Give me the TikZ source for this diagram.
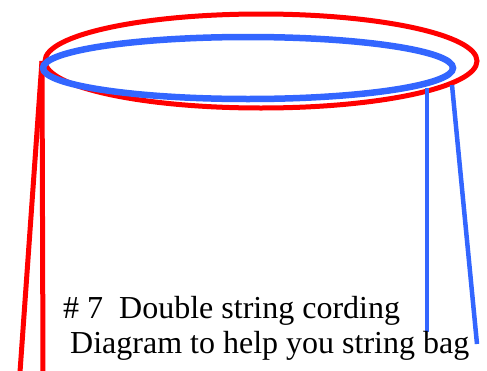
\documentclass[tikz,border=0pt]{standalone}
\usepackage{fontspec}
\setmainfont{Liberation Serif}
\definecolor{ringred}{RGB}{255,0,0}
\definecolor{ringblue}{RGB}{51,102,255}
\begin{document}
\begin{tikzpicture}[x=1pt,y=-1pt,
  redline/.style={draw=ringred,line width=5pt},
  blueline/.style={draw=ringblue,line width=4.5pt},
  label/.style={anchor=base west,inner sep=0pt,font=\fontsize{32}{36}\selectfont}]
\useasboundingbox (0,0) rectangle (487,370);
% red ring and legs
\draw[redline] (261,61) ellipse [x radius=216,y radius=47];
\coordinate (rtop) at (42,61);
\coordinate (rl) at (20,372);
\coordinate (rr) at (43,372);
\draw[redline] (rtop) -- (rl);
\draw[redline] (rtop) -- (rr);
% blue ring and legs
\coordinate (b1top) at (427,88);
\coordinate (b1bot) at (427,332);
\coordinate (b2top) at (452,85);
\coordinate (b2bot) at (477,344);
\draw[blueline] (b1top) -- (b1bot);
\draw[blueline] (b2top) -- (b2bot);
\draw[draw=ringblue,line width=6.5pt] (248,68) ellipse [x radius=205,y radius=31];
% text
\node[label] (t1) at (63,318) {\# 7\ \ Double string cording};
\node[label] (t2) at (70,353) {Diagram to help you string bag};
\end{tikzpicture}
\end{document}
